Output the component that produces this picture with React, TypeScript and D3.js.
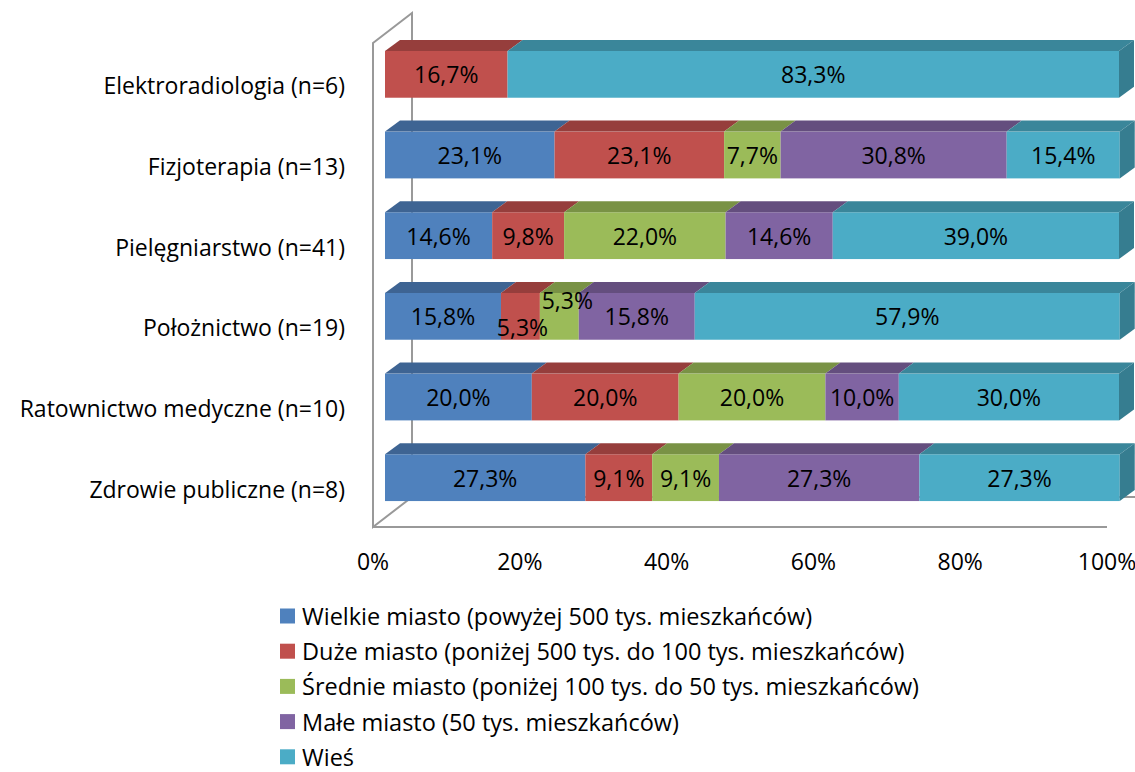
import React, { useEffect, useRef } from 'react'
import * as d3 from 'd3'

// kategorie (od góry)
const categories = [
  'Elektroradiologia (n=6)',
  'Fizjoterapia (n=13)',
  'Pielęgniarstwo (n=41)',
  'Położnictwo (n=19)',
  'Ratownictwo medyczne (n=10)',
  'Zdrowie publiczne (n=8)'
]

const seriesNames = [
  'Wielkie miasto (powyżej 500 tys. mieszkańców)',
  'Duże miasto (poniżej 500 tys. do 100 tys. mieszkańców)',
  'Średnie miasto (poniżej 100 tys. do 50 tys. mieszkańców)',
  'Małe miasto (50 tys. mieszkańców)',
  'Wieś'
]

const seriesColors = ['#4F81BD', '#C0504D', '#9BBB59', '#8064A2', '#4BACC6']

// wartości w % dla kolejnych serii
const wielkie = [0, 23.1, 14.6, 15.8, 20.0, 27.3]
const duze = [16.7, 23.1, 9.8, 5.3, 20.0, 9.1]
const srednie = [0, 7.7, 22.0, 5.3, 20.0, 9.1]
const male = [0, 30.8, 14.6, 15.8, 10.0, 27.3]
const wies = [83.3, 15.4, 39.0, 57.9, 30.0, 27.3]

const ticks = [0, 20, 40, 60, 80, 100]

const FONT = '"Open Sans", "Noto Sans", sans-serif'
const FS = 23

const Chart = () => {
  const ref = useRef<SVGSVGElement>(null)

  function drawChart() {
    const svg = d3.select(ref.current)
    svg.selectAll('*').remove()

    // przednia płaszczyzna ramki 3D
    const left = 373
    const right = 1107
    const top = 43
    const bottom = 527
    const depthX = 39
    const depthY = -30
    // słupki w środku głębokości
    const barShiftX = 12
    const barShiftY = -9
    const barDepthX = 15
    const barDepthY = -11

    const xScale = d3.scaleLinear().domain([0, 100]).range([left, right])
    const yScale = d3
      .scaleBand()
      .domain(categories)
      .range([top, bottom])
      .paddingInner(0.42)
      .paddingOuter(0.21)

    const all = [wielkie, duze, srednie, male, wies]

    // ramka
    const frame = svg.append('g').attr('stroke', '#999').attr('stroke-width', 2).attr('fill', 'none')
    frame
      .append('path')
      .attr(
        'd',
        `M${left},${top} L${left + depthX},${top + depthY} L${left + depthX},${bottom + depthY} L${left},${bottom} Z`
      )
    frame
      .append('line')
      .attr('x1', left + depthX)
      .attr('y1', bottom + depthY)
      .attr('x2', right + depthX)
      .attr('y2', bottom + depthY)
    frame.append('line').attr('x1', left).attr('y1', bottom).attr('x2', right).attr('y2', bottom)

    // słupki
    const bars = svg.append('g')
    categories.forEach((cat, ci) => {
      const y0 = (yScale(cat) as number) + barShiftY
      const h = yScale.bandwidth()
      let cum = 0
      const lastIdx = d3.max(all.map((s, si) => (s[ci] > 0 ? si : -1))) as number
      all.forEach((s, si) => {
        const v = s[ci]
        if (v <= 0) return
        const xa = xScale(cum) + barShiftX
        const xb = xScale(cum + v) + barShiftX
        cum += v
        const base = d3.color(seriesColors[si]) as d3.RGBColor
        bars
          .append('rect')
          .attr('x', xa)
          .attr('y', y0)
          .attr('width', xb - xa)
          .attr('height', h)
          .attr('fill', seriesColors[si])
        bars
          .append('path')
          .attr(
            'd',
            `M${xa},${y0} L${xa + barDepthX},${y0 + barDepthY} L${xb + barDepthX},${y0 + barDepthY} L${xb},${y0} Z`
          )
          .attr('fill', base.darker(0.7).formatHex())
        if (si === lastIdx) {
          bars
            .append('path')
            .attr(
              'd',
              `M${xb},${y0} L${xb + barDepthX},${y0 + barDepthY} L${xb + barDepthX},${y0 + barDepthY + h} L${xb},${y0 + h} Z`
            )
            .attr('fill', base.darker(0.9).formatHex())
        }
      })
    })

    // etykiety danych
    const nudge: Record<string, [number, number]> = {
      '3-1': [2, 11],
      '3-2': [8, -16]
    }
    const labels = svg.append('g').attr('font-family', FONT).attr('font-size', FS).attr('fill', '#000')
    categories.forEach((cat, ci) => {
      const yc = (yScale(cat) as number) + barShiftY + yScale.bandwidth() / 2
      let cum = 0
      all.forEach((s, si) => {
        const v = s[ci]
        if (v <= 0) return
        const xc = xScale(cum + v / 2) + barShiftX
        cum += v
        const [nx, ny] = nudge[`${ci}-${si}`] || [0, 0]
        labels
          .append('text')
          .attr('x', xc + nx)
          .attr('y', yc + ny)
          .attr('text-anchor', 'middle')
          .attr('dominant-baseline', 'central')
          .text(d3.format('.1f')(v).replace('.', ',') + '%')
      })
    })

    // etykiety kategorii
    svg
      .append('g')
      .attr('font-family', FONT)
      .attr('font-size', FS)
      .selectAll('text')
      .data(categories)
      .enter()
      .append('text')
      .attr('x', 345)
      .attr('y', (d) => (yScale(d) as number) + yScale.bandwidth() / 2 + 2)
      .attr('text-anchor', 'end')
      .attr('dominant-baseline', 'central')
      .text((d) => d)

    // oś X
    svg
      .append('g')
      .attr('font-family', FONT)
      .attr('font-size', FS)
      .selectAll('text')
      .data(ticks)
      .enter()
      .append('text')
      .attr('x', (d) => xScale(d))
      .attr('y', 561)
      .attr('text-anchor', 'middle')
      .attr('dominant-baseline', 'central')
      .text((d) => d + '%')

    // legenda
    const legend = svg
      .append('g')
      .attr('font-family', FONT)
      .attr('font-size', 23.5)
      .selectAll('g')
      .data(seriesNames)
      .enter()
      .append('g')
      .attr('transform', (d, i) => `translate(280, ${616 + i * 35.2})`)
    legend
      .append('rect')
      .attr('x', 0)
      .attr('y', -7.5)
      .attr('width', 15)
      .attr('height', 15)
      .attr('fill', (d, i) => seriesColors[i])
    legend
      .append('text')
      .attr('x', 22)
      .attr('y', 0)
      .attr('dominant-baseline', 'central')
      .text((d) => d)
  }

  useEffect(() => {
    drawChart()
  }, [])

  return (
    <svg
      ref={ref}
      width={1135}
      height={772}
      style={{ position: 'absolute', left: 0, top: 0, display: 'block' }}
    />
  )
}

export default function App() {
  return <Chart />
}
